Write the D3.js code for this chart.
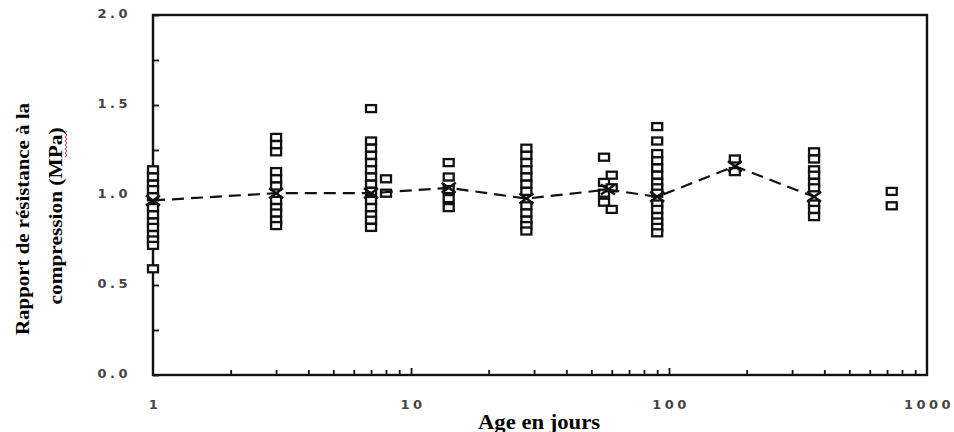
<!DOCTYPE html>
<html>
<head>
<meta charset="utf-8">
<script src="https://cdn.jsdelivr.net/npm/d3@7"></script>
<style>
  html, body { margin: 0; padding: 0; background: #fff; }
  svg { display: block; }
</style>
</head>
<body>
<svg id="chart" width="954" height="432"></svg>
<script>
// ---- data ----
const ages = [1, 3, 7, 8, 14, 28, 56, 60, 90, 180, 365, 730];
const ratios = [
  [1.14, 1.10, 1.06, 1.03, 0.99, 0.93, 0.89, 0.85, 0.82, 0.78, 0.75, 0.72, 0.59],
  [1.32, 1.28, 1.24, 1.13, 1.09, 1.05, 0.97, 0.93, 0.90, 0.86, 0.83],
  [1.48, 1.30, 1.26, 1.22, 1.18, 1.14, 1.10, 1.06, 1.02, 0.97, 0.93, 0.89, 0.86, 0.82],
  [1.09, 1.01],
  [1.18, 1.10, 1.03, 0.98, 0.93],
  [1.26, 1.22, 1.18, 1.14, 1.10, 1.06, 1.02, 0.94, 0.90, 0.86, 0.83, 0.80],
  [1.21, 1.07, 1.01, 0.96],
  [1.11, 1.04, 0.92],
  [1.38, 1.30, 1.23, 1.19, 1.15, 1.11, 1.07, 1.04, 1.01, 0.95, 0.92, 0.88, 0.85, 0.82, 0.79],
  [1.20, 1.13],
  [1.24, 1.20, 1.14, 1.11, 1.07, 1.04, 0.95, 0.92, 0.88],
  [1.02, 0.94]
];
const meanAges = [1, 3, 7, 14, 28, 58, 90, 180, 365];
const meanRatios = [0.97, 1.01, 1.01, 1.04, 0.98, 1.03, 0.99, 1.16, 0.99];
const yTickLabels = [0, 0.5, 1.0, 1.5, 2.0];
const yMinorTicks = [0, 0.25, 0.5, 0.75, 1.0, 1.25, 1.5, 1.75, 2.0];
const xTickLabels = [1, 10, 100, 1000];
const xTitle = "Age en jours";
const yTitle1 = "Rapport de résistance à la";
const yTitle2 = "compression (MPa)";

// ---- layout ----
const svg = d3.select("#chart");
const L = 153, R = 927, T = 15, B = 375;
const x = d3.scaleLog().domain([1, 1000]).range([L, R]);
const y = d3.scaleLinear().domain([0, 2]).range([B, T]);
const ink = "#111";

// minor x ticks
const xMinor = [];
[1, 10, 100].forEach(d => { for (let k = 2; k <= 9; k++) xMinor.push(d * k); });

// bottom axis (inward ticks)
const gx = svg.append("g").attr("transform", `translate(0,${B})`)
  .call(d3.axisBottom(x).tickValues(xMinor).tickSize(-5).tickFormat(""));
gx.select(".domain").remove();
gx.selectAll("line").attr("stroke", ink).attr("stroke-width", 1.8);
const gx2 = svg.append("g").attr("transform", `translate(0,${B})`)
  .call(d3.axisBottom(x).tickValues([10, 100]).tickSize(-7).tickFormat(""));
gx2.select(".domain").remove();
gx2.selectAll("line").attr("stroke", ink).attr("stroke-width", 1.8);

// x labels
svg.append("g").selectAll("text").data(xTickLabels).join("text")
  .attr("x", d => x(d) + 2)
  .attr("y", 409)
  .attr("text-anchor", "middle")
  .attr("font-family", "DejaVu Sans")
  .attr("font-weight", "bold")
  .attr("font-size", 13)
  .attr("letter-spacing", 3.5)
  .attr("fill", "#444")
  .text(d => String(d));

// left axis (inward ticks)
const gy = svg.append("g").attr("transform", `translate(${L},0)`)
  .call(d3.axisLeft(y).tickValues(yMinorTicks).tickSize(-6).tickFormat(""));
gy.select(".domain").remove();
gy.selectAll("line").attr("stroke", ink).attr("stroke-width", 1.8);

svg.append("g").selectAll("text").data(yTickLabels).join("text")
  .attr("x", 131)
  .attr("y", d => y(d) + 3)
  .attr("text-anchor", "end")
  .attr("font-family", "DejaVu Sans")
  .attr("font-weight", "bold")
  .attr("font-size", 13)
  .attr("letter-spacing", 3.5)
  .attr("fill", "#444")
  .text(d => d.toFixed(1));

// frame
svg.append("rect")
  .attr("x", L).attr("y", T).attr("width", R - L).attr("height", B - T)
  .attr("fill", "none").attr("stroke", ink).attr("stroke-width", 2.4);

// squares
const pts = [];
ages.forEach((a, i) => ratios[i].forEach(v => pts.push({a, v})));
const sw = 10, sh = 7;
svg.append("g").selectAll("rect").data(pts).join("rect")
  .attr("x", d => x(d.a) - sw / 2)
  .attr("y", d => y(d.v) - sh / 2)
  .attr("width", sw).attr("height", sh)
  .attr("fill", "#fff")
  .attr("stroke", ink).attr("stroke-width", 2.3);

// mean dashed line
const means = meanAges.map((a, i) => ({a, v: meanRatios[i]}));
svg.append("path").datum(means)
  .attr("d", d3.line().x(d => x(d.a)).y(d => y(d.v)))
  .attr("fill", "none").attr("stroke", ink).attr("stroke-width", 2.2)
  .attr("stroke-dasharray", "12,7");

// X markers
const mx = 7, my = 5;
svg.append("g").selectAll("path").data(means).join("path")
  .attr("d", d => {
    const cx = x(d.a), cy = y(d.v);
    return `M${cx - mx},${cy - my}L${cx + mx},${cy + my}M${cx - mx},${cy + my}L${cx + mx},${cy - my}`;
  })
  .attr("stroke", ink).attr("stroke-width", 2.4).attr("fill", "none");

// titles
svg.append("text")
  .attr("x", 539).attr("y", 429)
  .attr("text-anchor", "middle")
  .attr("font-family", "Liberation Serif")
  .attr("font-weight", "bold")
  .attr("font-size", 20)
  .attr("textLength", 122)
  .attr("lengthAdjust", "spacingAndGlyphs")
  .attr("fill", "#000")
  .text(xTitle);

svg.append("text")
  .attr("transform", "translate(29,219) rotate(-90)")
  .attr("text-anchor", "middle")
  .attr("font-family", "Liberation Serif")
  .attr("font-weight", "bold")
  .attr("font-size", 19)
  .attr("textLength", 232)
  .attr("lengthAdjust", "spacingAndGlyphs")
  .attr("fill", "#000")
  .text(yTitle1);

svg.append("text")
  .attr("transform", "translate(62,216) rotate(-90)")
  .attr("text-anchor", "middle")
  .attr("font-family", "Liberation Serif")
  .attr("font-weight", "bold")
  .attr("font-size", 19)
  .attr("textLength", 177)
  .attr("lengthAdjust", "spacingAndGlyphs")
  .attr("fill", "#000")
  .text(yTitle2);

// red spell-check squiggle under "MPa"
(function () {
  let d = "M65,157";
  let yy = 157, s = 0;
  while (yy > 131) { yy -= 2; s = 1 - s; d += `L${65 + s * 2},${yy}`; }
  svg.append("path").attr("d", d).attr("fill", "none")
    .attr("stroke", "#e03030").attr("stroke-width", 1);
})();
</script>
</body>
</html>
